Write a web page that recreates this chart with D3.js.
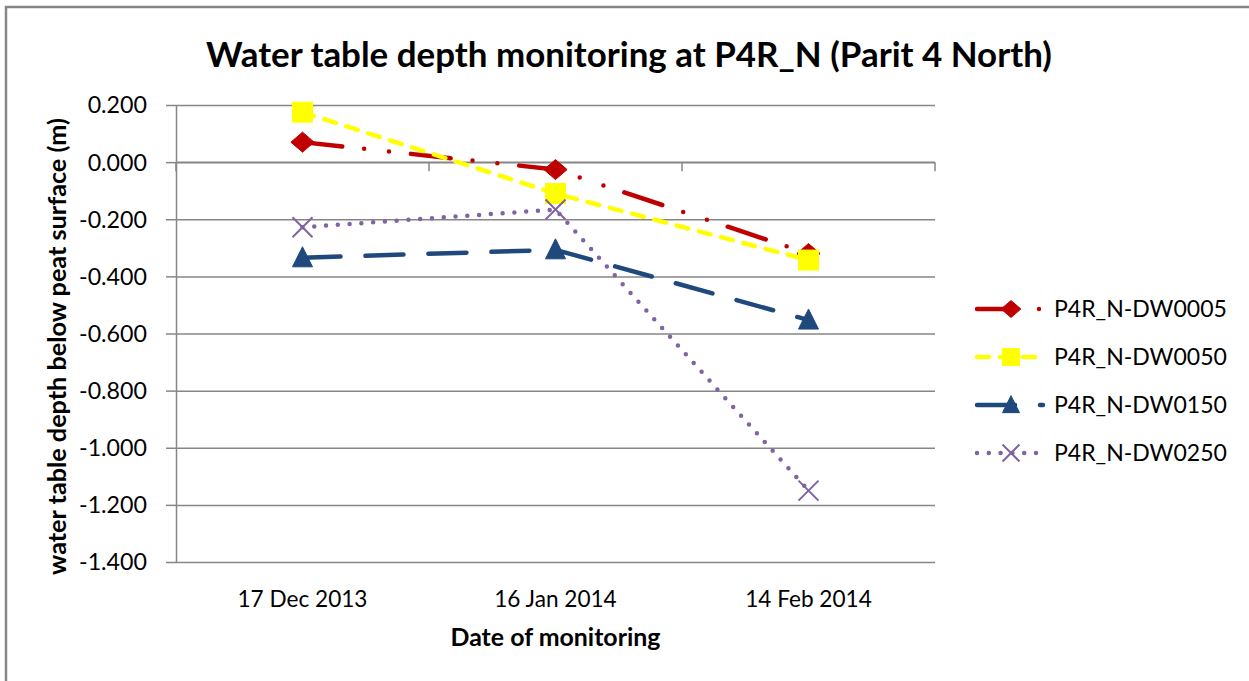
<!DOCTYPE html>
<html>
<head>
<meta charset="utf-8">
<script src="https://cdn.jsdelivr.net/npm/d3@7"></script>
<style>
  html, body { margin: 0; padding: 0; background: #fff; }
  svg { display: block; }
  text { font-family: Lato, "Noto Sans", sans-serif; fill: #000; }
</style>
</head>
<body>
<svg id="chart" width="1249" height="681"></svg>
<script>
// ---- data ----
const categories = ["17 Dec 2013", "16 Jan 2014", "14 Feb 2014"];
const seriesNames = ["P4R_N-DW0005", "P4R_N-DW0050", "P4R_N-DW0150", "P4R_N-DW0250"];
const dw0005 = [0.070, -0.026, -0.320];
const dw0050 = [0.175, -0.110, -0.343];
const dw0150 = [-0.335, -0.307, -0.553];
const dw0250 = [-0.228, -0.166, -1.150];
const yTicks = [0.2, 0.0, -0.2, -0.4, -0.6, -0.8, -1.0, -1.2, -1.4];
const titleText = "Water table depth monitoring at P4R_N (Parit 4 North)";
const xTitle = "Date of monitoring";
const yTitle = "water table depth below peat surface (m)";

// ---- styles ----
const styles = [
  { color: "#C00000", dash: "40,22,0,25,0,22", marker: "diamond", width: 4.5 },
  { color: "#FFFF00", dash: "12,11", marker: "square", width: 4.5 },
  { color: "#1F497D", dash: "38,25", marker: "triangle", width: 4.5 },
  { color: "#8064A2", dash: "0,11.8", marker: "x", width: 4.5 }
];
const allSeries = [dw0005, dw0050, dw0150, dw0250].map((v, i) => ({ name: seriesNames[i], values: v, style: styles[i] }));

const svg = d3.select("#chart");
const L = 176, R = 935, T = 105, B = 562;
const x = d3.scaleBand().domain(categories).range([L, R]);
const y = d3.scaleLinear().domain([-1.4, 0.2]).range([B, T]);
const fmt = d => d3.format(".3f")(d).replace("\u2212", "-");

function fit(sel, target) {
  const w = sel.node().getComputedTextLength();
  const fs = parseFloat(sel.attr("font-size"));
  sel.attr("font-size", fs * target / w);
  return fs * target / w;
}

// outer border
svg.append("path").attr("d", "M6,690 L6,7 L1260,7")
  .attr("fill", "none").attr("stroke", "#868686").attr("stroke-width", 2.5);

// gridlines
const grid = svg.append("g").attr("transform", `translate(${L},0)`)
  .call(d3.axisLeft(y).tickValues(yTicks).tickSize(-(R - L)).tickFormat(""));
grid.select(".domain").remove();
grid.selectAll("line").attr("stroke", "#868686").attr("stroke-width", 1.5);

// y axis with ticks and labels
const yAxis = svg.append("g").attr("transform", `translate(${L},0)`)
  .call(d3.axisLeft(y).tickValues(yTicks).tickSize(10).tickSizeOuter(0).tickPadding(19).tickFormat(fmt));
yAxis.select(".domain").attr("stroke", "#868686").attr("stroke-width", 1.5);
yAxis.selectAll("line").attr("stroke", "#868686").attr("stroke-width", 1.5);
yAxis.selectAll("text").attr("font-family", "Lato").attr("font-size", 20).attr("fill", "#000");
{
  const ref = yAxis.selectAll("text").filter(d => d === -1.4);
  const fs = fit(ref, 68);
  yAxis.selectAll("text").attr("font-size", fs).attr("dy", "0.34em");
}

// x axis at zero with tick marks at category boundaries
const bounds = categories.map(c => x(c)).concat([x(categories[categories.length - 1]) + x.bandwidth()]);
svg.append("line").attr("x1", L).attr("x2", R).attr("y1", y(0)).attr("y2", y(0))
  .attr("stroke", "#868686").attr("stroke-width", 1.5);
svg.append("g").selectAll("line").data(bounds).join("line")
  .attr("x1", d => d).attr("x2", d => d).attr("y1", y(0)).attr("y2", y(0) + 9)
  .attr("stroke", "#868686").attr("stroke-width", 1.5);

// x labels
const xl = svg.append("g").selectAll("text").data(categories).join("text")
  .attr("x", d => x(d) + x.bandwidth() / 2).attr("y", 607)
  .attr("text-anchor", "middle").attr("font-size", 20).text(d => d);
{
  const fs = fit(d3.select(xl.nodes()[0]), 130);
  xl.attr("font-size", fs);
}

// titles
const t = svg.append("text").attr("x", (206 + 1052) / 2).attr("y", 67)
  .attr("text-anchor", "middle").attr("font-weight", "bold").attr("font-size", 30).text(titleText);
fit(t, 846);
const xt = svg.append("text").attr("x", (L + R) / 2).attr("y", 646)
  .attr("text-anchor", "middle").attr("font-weight", "bold").attr("font-size", 20).text(xTitle);
fit(xt, 210);
const yt = svg.append("text").attr("transform", `translate(66,${(118 + 575) / 2}) rotate(-90)`)
  .attr("text-anchor", "middle").attr("font-weight", "bold").attr("font-size", 20).text(yTitle);
fit(yt, 457);

// markers
function drawMarker(g, type, cx, cy, color, s) {
  if (type === "diamond") {
    g.append("path").attr("d", `M${cx},${cy - s * 0.5} L${cx + s * 0.58},${cy} L${cx},${cy + s * 0.5} L${cx - s * 0.58},${cy} Z`)
      .attr("fill", color).attr("stroke", color).attr("stroke-width", 1);
  } else if (type === "square") {
    g.append("rect").attr("x", cx - s / 2).attr("y", cy - s / 2).attr("width", s).attr("height", s)
      .attr("fill", color).attr("stroke", color).attr("stroke-width", 1);
  } else if (type === "triangle") {
    g.append("path").attr("d", `M${cx},${cy - s * 0.55} L${cx + s * 0.5},${cy + s * 0.45} L${cx - s * 0.5},${cy + s * 0.45} Z`)
      .attr("fill", color).attr("stroke", color).attr("stroke-width", 1);
  } else if (type === "x") {
    const h = s / 2;
    g.append("path").attr("d", `M${cx - h},${cy - h} L${cx + h},${cy + h} M${cx - h},${cy + h} L${cx + h},${cy - h}`)
      .attr("fill", "none").attr("stroke", color).attr("stroke-width", 2);
  }
}

// series lines
const line = d3.line().x((d, i) => x(categories[i]) + x.bandwidth() / 2).y(d => y(d));
const plot = svg.append("g");
allSeries.forEach(s => {
  plot.append("path").attr("d", line(s.values)).attr("fill", "none")
    .attr("stroke", s.style.color).attr("stroke-width", s.style.width)
    .attr("stroke-dasharray", s.style.dash).attr("stroke-linecap", "round").attr("stroke-linejoin", "round");
});
allSeries.forEach(s => {
  const g = plot.append("g");
  s.values.forEach((v, i) => drawMarker(g, s.style.marker, x(categories[i]) + x.bandwidth() / 2, y(v), s.style.color, 20));
});

// legend
const legendY = d3.scalePoint().domain(seriesNames).range([309, 453]);
const leg = svg.append("g");
allSeries.forEach(s => {
  const cy = legendY(s.name);
  leg.append("line").attr("x1", 977).attr("x2", 1043).attr("y1", cy).attr("y2", cy)
    .attr("stroke", s.style.color).attr("stroke-width", s.style.width)
    .attr("stroke-dasharray", s.style.dash).attr("stroke-linecap", "round");
  drawMarker(leg, s.style.marker, 1011, cy, s.style.color, 17);
});
const lt = leg.selectAll("text").data(seriesNames).join("text")
  .attr("x", 1054).attr("y", d => legendY(d)).attr("dy", "0.35em").attr("font-size", 20).text(d => d);
{
  const fs = fit(d3.select(lt.nodes()[0]), 173);
  lt.attr("font-size", fs);
}
</script>
</body>
</html>
